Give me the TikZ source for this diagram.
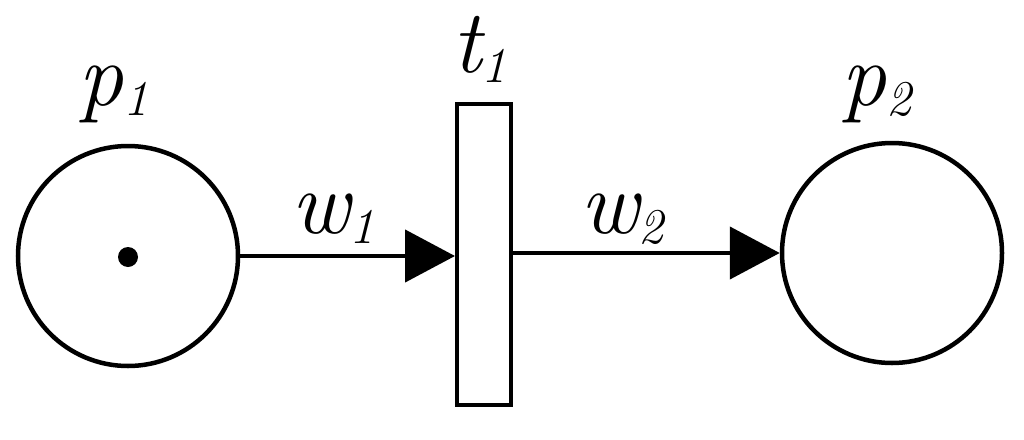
\documentclass[tikz,border=0pt]{standalone}
\usetikzlibrary{arrows.meta}
\newcommand{\lbl}[2]{{\fontsize{90}{90}\selectfont\itshape #1}\raisebox{-10pt}{\fontsize{50}{50}\selectfont\itshape #2}}
\begin{document}
\begin{tikzpicture}[x=1pt,y=-1pt,
  place/.style={circle,draw,line width=4.5pt,minimum size=220pt,inner sep=0pt},
  trans/.style={rectangle,draw,line width=4pt,minimum width=54pt,minimum height=301pt,inner sep=0pt},
  token/.style={circle,fill,minimum size=20pt,inner sep=0pt},
  arc/.style={line width=4.5pt,-{Triangle[length=50pt,width=52pt]}},
  lab/.style={anchor=base west,inner sep=0pt,outer sep=0pt}]
\useasboundingbox (0,0) rectangle (1024,439);
\node[place] (p1) at (128,256) {};
\node[place] (p2) at (892,253) {};
\node[trans] (t1) at (484,254.5) {};
\node[token] (tok) at (128,257) {};
\draw[arc] (p1.east) -- (t1.west |- p1.east);
\coordinate (t1o) at (t1.east |- 0,253);
\draw[arc] (t1o) -- (p2.west);
\node[lab] (lp1) at (78,105) {\lbl{p}{1}};
\node[lab] (lt1) at (452,72) {\lbl{t}{1}};
\node[lab] (lp2) at (841,105) {\lbl{p}{2}};
\node[lab] (lw1) at (291,233) {\lbl{w}{1}};
\node[lab] (lw2) at (580,233) {\lbl{w}{2}};
\end{tikzpicture}
\end{document}
